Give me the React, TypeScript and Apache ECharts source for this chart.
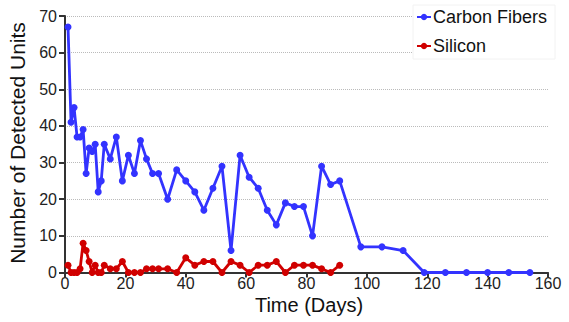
import React, { useEffect, useRef } from "react";
import * as echarts from "echarts";

const days = [1, 2, 3, 4, 5, 6, 7, 8, 9, 10, 11, 12, 13, 15, 17, 19, 21, 23, 25, 27, 29, 31, 34, 37, 40, 43, 46, 49, 52, 55, 58, 61, 64, 67, 70, 73, 76, 79, 82, 85, 88, 91, 98, 105, 112, 119, 126, 133, 140, 147, 154];
const carbonFibers = [67, 41, 45, 37, 37, 39, 27, 34, 33, 35, 22, 25, 35, 31, 37, 25, 32, 27, 36, 31, 27, 27, 20, 28, 25, 22, 17, 23, 29, 6, 32, 26, 23, 17, 13, 19, 18, 18, 10, 29, 24, 25, 7, 7, 6, 0, 0, 0, 0, 0, 0];
const silicon = [2, 0, 0, 0, 1, 8, 6, 3, 0, 2, 0, 0, 2, 1, 1, 3, 0, 0, 0, 1, 1, 1, 1, 0, 4, 2, 3, 3, 0, 3, 2, 0, 2, 2, 3, 0, 2, 2, 2, 1, 0, 2];
const seriesNames = ["Carbon Fibers", "Silicon"];
const xTitle = "Time (Days)";
const yTitle = "Number of Detected Units";

export default function App() {
  const ref = useRef<HTMLDivElement>(null);
  useEffect(() => {
    document.body.style.margin = "0";
    const chart = echarts.init(ref.current!, null, { renderer: "svg" });
    const font = "'Liberation Sans', Arial, sans-serif";
    const axisColor = "#333";
    chart.setOption({
      animation: false,
      textStyle: { fontFamily: font },
      grid: { left: 65, right: 21, top: 16, bottom: 49.5, containLabel: false },
      legend: {
        orient: "vertical",
        left: 413,
        top: 5,
        itemWidth: 14,
        itemHeight: 8,
        itemGap: 11,
        padding: [3, 8, 4, 3],
        backgroundColor: "#fff",
        borderColor: "#f2f2f2",
        borderWidth: 1,
        textStyle: { fontSize: 18, color: "#111", fontFamily: font, padding: [0, 0, 0, -3] },
        data: seriesNames,
      },
      xAxis: {
        type: "value",
        min: 0,
        max: 160,
        interval: 20,
        axisLine: { show: true, lineStyle: { color: axisColor, width: 2 } },
        axisTick: { show: true, length: 5, lineStyle: { color: axisColor, width: 2 } },
        axisLabel: { fontSize: 16, color: "#222", margin: 3, fontFamily: font },
        splitLine: { show: false },
      },
      yAxis: {
        type: "value",
        min: 0,
        max: 70,
        interval: 10,
        axisLine: { show: true, lineStyle: { color: axisColor, width: 2 } },
        axisTick: { show: true, length: 6, lineStyle: { color: axisColor, width: 2 } },
        axisLabel: { fontSize: 16, color: "#222", margin: 8, fontFamily: font },
        splitLine: { show: true, lineStyle: { type: "dotted", color: "#bbb", width: 1 } },
      },
      series: [
        {
          name: seriesNames[0],
          type: "line",
          data: carbonFibers.map((v, i) => [days[i], v]),
          symbol: "circle",
          symbolSize: 7,
          showSymbol: true,
          color: "#3333ff",
          lineStyle: { width: 2.8, color: "#3333ff" },
          itemStyle: { color: "#3333ff" },
          z: 3,
        },
        {
          name: seriesNames[1],
          type: "line",
          data: silicon.map((v, i) => [days[i], v]),
          symbol: "circle",
          symbolSize: 7,
          showSymbol: true,
          color: "#d00000",
          lineStyle: { width: 2.8, color: "#d00000" },
          itemStyle: { color: "#d00000" },
          z: 4,
        },
      ],
      graphic: [
        {
          type: "text",
          x: 17,
          y: 143,
          rotation: Math.PI / 2,
          style: {
            text: yTitle,
            fontSize: 21,
            fontFamily: font,
            fill: "#111",
            align: "center",
            verticalAlign: "middle",
          },
        },
        {
          type: "text",
          x: 309,
          y: 305,
          style: {
            text: xTitle,
            fontSize: 20,
            fontFamily: font,
            fill: "#111",
            align: "center",
            verticalAlign: "middle",
          },
        },
      ],
    });
    return () => chart.dispose();
  }, []);
  return <div ref={ref} style={{ width: 569, height: 322 }} />;
}
